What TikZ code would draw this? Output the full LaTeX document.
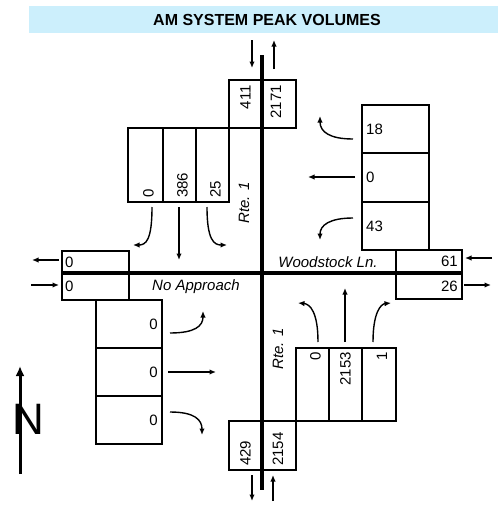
\documentclass[tikz,border=0pt]{standalone}
\usepackage{fontspec}
\setmainfont{Liberation Sans}
\usetikzlibrary{arrows.meta,positioning,calc}

\begin{document}
\begin{tikzpicture}[x=1pt,y=-1pt]

% --- STYLES ---
\tikzset{
  volbox/.style 2 args={draw=black, line width=1.8pt, minimum width=#1,
                  minimum height=#2, inner sep=0pt, outer sep=0pt},
  num/.style={font=\fontsize{15}{17}\selectfont, inner sep=0pt},
  street/.style={font=\fontsize{15}{17}\selectfont\itshape, inner sep=0pt},
  road/.style={black, line width=4pt},
  flow/.style={black, line width=1.4pt, -{Latex[length=6.5pt, width=5.5pt]}},
}

\useasboundingbox (0,0) rectangle (498,506);

% ================= TITLE =================
\fill[cyan!20] (29,6) rectangle (498,33);
\node[font=\fontsize{16}{18}\selectfont\bfseries] (title) at (267,19.5) {AM SYSTEM PEAK VOLUMES};

% ================= ROADS =================
\draw[road] (262,55) -- (262,490);
\draw[road] (62,273) -- (462,273);

% ================= NORTH LEG =================
\node[volbox={33pt}{48pt}] (t411) at (245.5,104) {};
\node[volbox={34pt}{48pt}, right=0pt of t411] (t2171) {};
\node[num, rotate=90, anchor=east] at ([yshift=-5pt]t411.north) {411};
\node[num, rotate=90, anchor=east] at ([xshift=-3pt,yshift=-5pt]t2171.north) {2171};

\node[volbox={35pt}{74pt}] (s0) at (145.5,165) {};
\node[volbox={33pt}{74pt}, right=0pt of s0] (s386) {};
\node[volbox={33pt}{74pt}, right=0pt of s386] (s25) {};
\node[num, rotate=90, anchor=west] at ([xshift=3pt,yshift=4pt]s0.south) {0};
\node[num, rotate=90, anchor=west] at ([xshift=3pt,yshift=4pt]s386.south) {386};
\node[num, rotate=90, anchor=west] at ([xshift=3pt,yshift=4pt]s25.south) {25};
\node[street, rotate=90] (rte1n) at (244,203) {Rte. 1};

% ================= EAST LEG =================
\node[volbox={67pt}{48pt}] (w18) at (395.5,129) {};
\node[volbox={67pt}{49pt}, below=0pt of w18] (w0) {};
\node[volbox={67pt}{48pt}, below=0pt of w0] (w43) {};
\node[num, anchor=west] at ([xshift=4pt]w18.west) {18};
\node[num, anchor=west] at ([xshift=4pt]w0.west) {0};
\node[num, anchor=west] at ([xshift=4pt]w43.west) {43};

\node[volbox={66pt}{23pt}] (r61) at (429,261.5) {};
\node[volbox={66pt}{26pt}, below=0pt of r61] (r26) {};
\node[num, anchor=east] at ([xshift=-4pt]r61.east) {61};
\node[num, anchor=east] at ([xshift=-4pt]r26.east) {26};
\node[street] (woodstock) at (328,262) {Woodstock Ln.};

% ================= WEST LEG =================
\node[volbox={67pt}{22pt}] (l0a) at (95.5,262) {};
\node[volbox={67pt}{27pt}, below=0pt of l0a] (l0b) {};
\node[num, anchor=west] at ([xshift=3pt]l0a.west) {0};
\node[num, anchor=west] at ([xshift=3pt]l0b.west) {0};
\node[street] (noappr) at (196,287) {No Approach};

\node[volbox={66pt}{48pt}] (e0a) at (129,324) {};
\node[volbox={66pt}{48pt}, below=0pt of e0a] (e0b) {};
\node[volbox={66pt}{48pt}, below=0pt of e0b] (e0c) {};
\node[num, anchor=east] at ([xshift=-4pt]e0a.east) {0};
\node[num, anchor=east] at ([xshift=-4pt]e0b.east) {0};
\node[num, anchor=east] at ([xshift=-4pt]e0c.east) {0};

% ================= SOUTH LEG =================
\node[volbox={33pt}{73pt}] (n0) at (312.5,384.5) {};
\node[volbox={33pt}{73pt}, right=0pt of n0] (n2153) {};
\node[volbox={34pt}{73pt}, right=0pt of n2153] (n1) {};
\node[num, rotate=90, anchor=east] at ([xshift=3pt,yshift=-4pt]n0.north) {0};
\node[num, rotate=90, anchor=east] at ([yshift=-4pt]n2153.north) {2153};
\node[num, rotate=90, anchor=east] at ([xshift=3pt,yshift=-4pt]n1.north) {1};
\node[street, rotate=90] (rte1s) at (278,349) {Rte. 1};

\node[volbox={33pt}{49pt}] (b429) at (245.5,445.5) {};
\node[volbox={34pt}{49pt}, right=0pt of b429] (b2154) {};
\node[num, rotate=90, anchor=west] at ([yshift=4pt]b429.south) {429};
\node[num, rotate=90, anchor=west] at ([xshift=-1pt,yshift=4pt]b2154.south) {2154};

% ================= ARROW END POINTS =================
\coordinate (tin0) at (252,40);  \coordinate (tin1) at (252,68);
\coordinate (tout0) at (274,69); \coordinate (tout1) at (274,40);
\coordinate (bout0) at (252,475); \coordinate (bout1) at (252,501);
\coordinate (bin0) at (273,501);  \coordinate (bin1) at (273,475);
\coordinate (rin0) at (492,258);  \coordinate (rin1) at (465,258);
\coordinate (rout0) at (464,285); \coordinate (rout1) at (491,285);
\coordinate (lout0) at (59,260);  \coordinate (lout1) at (32,260);
\coordinate (lin0) at (31,285);   \coordinate (lin1) at (59,285);

\coordinate (sl0) at (152,207); \coordinate (sl1) at (133,245);
\coordinate (st0) at (179,207); \coordinate (st1) at (179,260);
\coordinate (sr0) at (207,207); \coordinate (sr1) at (227,245);

\coordinate (wr0) at (353,139); \coordinate (wr1) at (320,116);
\coordinate (wt0) at (355,177); \coordinate (wt1) at (308,177);
\coordinate (wl0) at (353,218); \coordinate (wl1) at (320,240);

\coordinate (el0) at (170,333); \coordinate (el1) at (203,311);
\coordinate (et0) at (168,372); \coordinate (et1) at (216,372);
\coordinate (er0) at (170,412); \coordinate (er1) at (202,435);

\coordinate (nl0) at (318,342); \coordinate (nl1) at (298,303);
\coordinate (nt0) at (345,342); \coordinate (nt1) at (345,288);
\coordinate (nr0) at (373,342); \coordinate (nr1) at (391,303);

% ================= LEG ARROWS =================
\draw[flow] (tin0) -- (tin1);
\draw[flow] (tout0) -- (tout1);
\draw[flow] (bout0) -- (bout1);
\draw[flow] (bin0) -- (bin1);
\draw[flow] (rin0) -- (rin1);
\draw[flow] (rout0) -- (rout1);
\draw[flow] (lout0) -- (lout1);
\draw[flow] (lin0) -- (lin1);

% ================= TURNING MOVEMENTS =================
\draw[flow] (sl0) .. controls (152,240) and (146,245) .. (sl1);
\draw[flow] (st0) -- (st1);
\draw[flow] (sr0) .. controls (207,240) and (214,245) .. (sr1);

\draw[flow] (wr0) .. controls (330,139) and (320,132) .. (wr1);
\draw[flow] (wt0) -- (wt1);
\draw[flow] (wl0) .. controls (330,218) and (320,225) .. (wl1);

\draw[flow] (el0) .. controls (195,333) and (203,326) .. (el1);
\draw[flow] (et0) -- (et1);
\draw[flow] (er0) .. controls (195,412) and (202,420) .. (er1);

\draw[flow] (nl0) .. controls (318,312) and (310,304) .. (nl1);
\draw[flow] (nt0) -- (nt1);
\draw[flow] (nr0) .. controls (373,312) and (381,304) .. (nr1);

% ================= NORTH SIGN =================
\coordinate (nbase) at (20,474);
\coordinate (ntip) at (20,366);
\draw[black, line width=3pt, -{Latex[length=10pt, width=9pt]}] (nbase) -- (ntip);
\node[font=\fontsize{44}{44}\selectfont, inner sep=0pt] (northN) at (28.5,419) {N};

\end{tikzpicture}
\end{document}
